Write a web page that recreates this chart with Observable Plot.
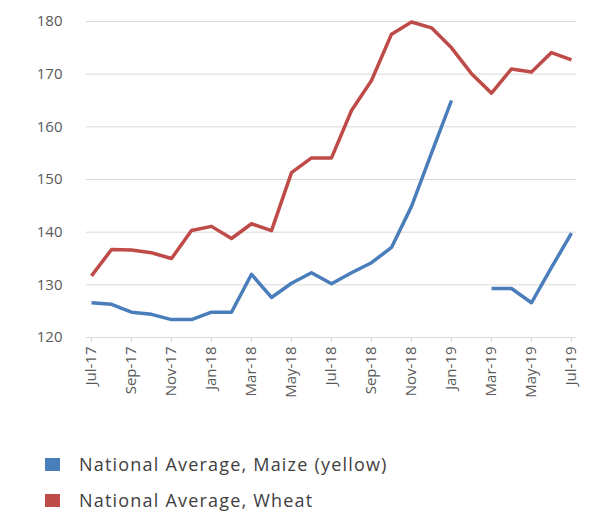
<!DOCTYPE html>
<html>
<head>
<meta charset="utf-8">
<script src="https://cdn.jsdelivr.net/npm/d3@7"></script>
<script src="https://cdn.jsdelivr.net/npm/@observablehq/plot@0.6"></script>
<style>
  body { margin: 0; background: #fff; font-family: "Open Sans", "Liberation Sans", sans-serif; }
  #legend { padding-top: 6px; padding-left: 45px; color: #404040; font-size: 18px; letter-spacing: 1.2px; }
  .row { display: flex; align-items: center; height: 36px; }
  .sw { width: 15px; height: 13px; margin-right: 19px; }
</style>
</head>
<body>
<div id="chart"></div>
<div id="legend"></div>
<script>
const months = ["Jul-17","Aug-17","Sep-17","Oct-17","Nov-17","Dec-17","Jan-18","Feb-18","Mar-18","Apr-18","May-18","Jun-18","Jul-18","Aug-18","Sep-18","Oct-18","Nov-18","Dec-18","Jan-19","Feb-19","Mar-19","Apr-19","May-19","Jun-19","Jul-19"];
const maize = [126.6,126.3,124.8,124.4,123.4,123.4,124.8,124.8,132.0,127.6,130.3,132.3,130.2,132.3,134.2,137.1,144.9,155.0,165.0,null,129.3,129.3,126.6,133.3,139.8];
const wheat = [131.7,136.7,136.6,136.1,135.0,140.3,141.1,138.8,141.6,140.3,151.3,154.1,154.1,163.1,168.8,177.6,179.9,178.8,175.0,170.1,166.4,171.0,170.4,174.1,172.7];
const seriesNames = ["National Average, Maize (yellow)", "National Average, Wheat"];
const colors = ["#4a7ebb", "#be4b48"];
const yTicks = [120,130,140,150,160,170,180];

const data = [];
months.forEach((m, i) => {
  data.push({month: m, value: maize[i], series: seriesNames[0]});
});
months.forEach((m, i) => {
  data.push({month: m, value: wheat[i], series: seriesNames[1]});
});

const chart = Plot.plot({
  width: 594,
  height: 440,
  marginTop: 21,
  marginBottom: 103,
  marginLeft: 86,
  marginRight: 18,
  style: {fontFamily: "'Open Sans', 'Liberation Sans', sans-serif", color: "#595959", background: "#fff"},
  x: {type: "point", domain: months, padding: 0},
  y: {domain: [120, 180]},
  color: {domain: seriesNames, range: colors},
  marks: [
    Plot.gridY(yTicks, {stroke: "#d9d9d9", strokeOpacity: 1, strokeWidth: 1}),
    Plot.ruleY([120], {stroke: "#d9d9d9", strokeWidth: 1}),
    Plot.axisY(yTicks, {tickSize: 0, tickPadding: 24, fontSize: 15, fill: "#595959", label: null}),
    Plot.axisX(months.filter((d, i) => i % 2 === 0), {tickRotate: -90, tickSize: 5, stroke: "#d9d9d9", tickPadding: 4, fontSize: 15, fill: "#595959", label: null}),
    Plot.line(data, {x: "month", y: "value", z: "series", stroke: "series", strokeWidth: 3.5, strokeLinejoin: "round", strokeLinecap: "butt", defined: d => d.value != null})
  ]
});
document.getElementById("chart").appendChild(chart);

const legend = document.getElementById("legend");
seriesNames.forEach((n, i) => {
  const row = document.createElement("div");
  row.className = "row";
  const sw = document.createElement("div");
  sw.className = "sw";
  sw.style.background = colors[i];
  const t = document.createElement("span");
  t.textContent = n;
  row.appendChild(sw);
  row.appendChild(t);
  legend.appendChild(row);
});
</script>
</body>
</html>
